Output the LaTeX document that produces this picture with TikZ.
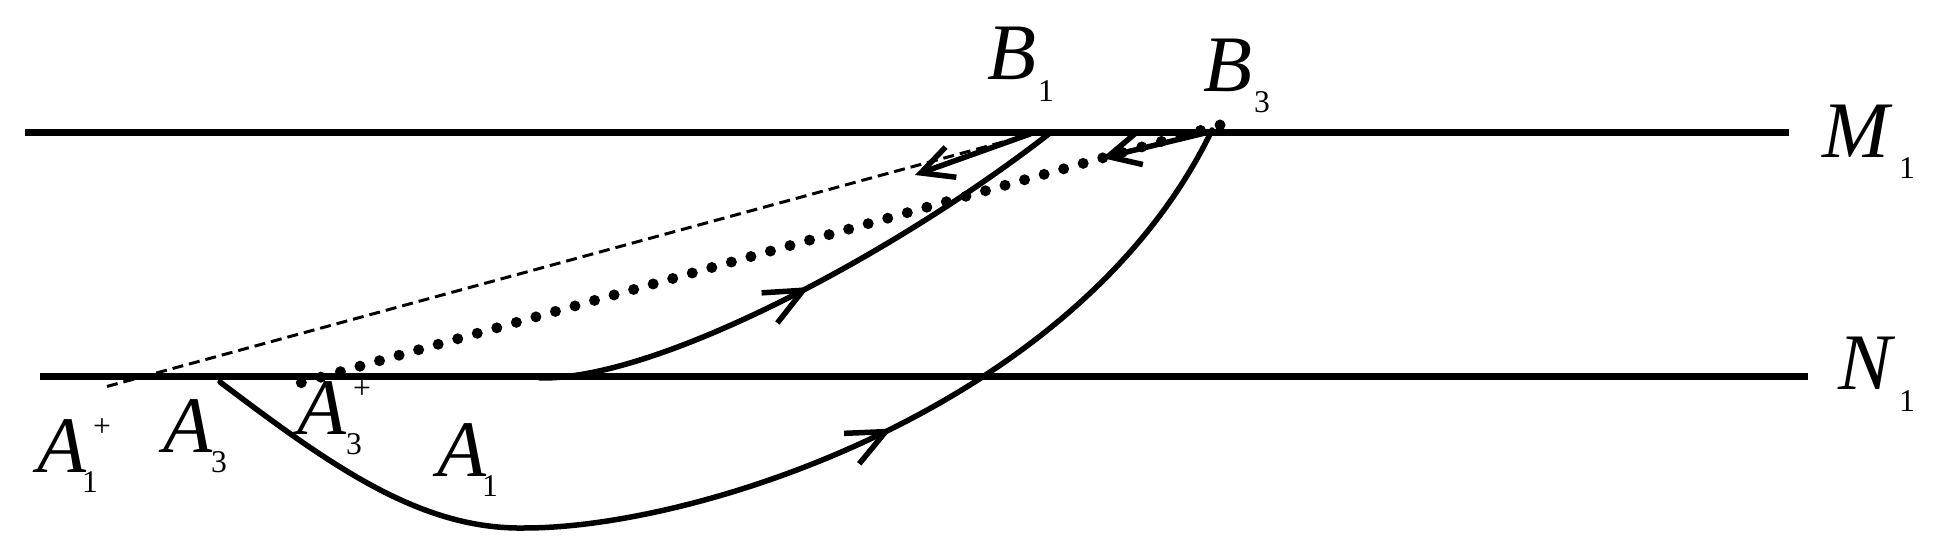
\documentclass[tikz,border=0pt]{standalone}
\usepackage{fontspec}
\setmainfont{Liberation Serif}
\usetikzlibrary{arrows.meta,decorations.markings}
\begin{document}
\begin{tikzpicture}[
  mirror/.style={line width=0.07cm},
  ray/.style={line width=0.055cm, line cap=round},
  barb/.style={ray, -{Straight Barb[length=0.32cm,width=0.32cm]}},
  midarrow/.style={postaction={decorate},decoration={markings,mark=at position #1 with {\arrow{Straight Barb[length=0.38cm,width=0.34cm]}}}},
  thindash/.style={line width=0.03cm, dash pattern=on 0.11cm off 0.06cm},
  bigdots/.style={line width=0.11cm, line cap=round, dash pattern=on 0pt off 0.203cm},
  letter/.style={inner sep=0pt, anchor=base west, font=\fontsize{22.8}{24}\selectfont\itshape},
  sub/.style={inner sep=0pt, anchor=base, font=\fontsize{9}{10}\selectfont},
]
\useasboundingbox (0,0) rectangle (19.35,5.55);
% mirrors
\coordinate (Ml) at (0.25,4.22);
\coordinate (Mr) at (17.89,4.22);
\coordinate (Nl) at (0.40,1.78);
\coordinate (Nr) at (18.08,1.78);
\draw[mirror] (Ml) -- (Mr);
\draw[mirror] (Nl) -- (Nr);
% points
\coordinate (A3) at (2.20,1.73);
\coordinate (bot) at (5.25,0.27);
\coordinate (B3) at (12.12,4.25);
\coordinate (A1) at (5.40,1.77);
\coordinate (B1) at (10.50,4.22);
\coordinate (A1p) at (1.05,1.68);
\coordinate (B1d) at (10.36,4.22);
\coordinate (B1a) at (10.30,4.21);
\coordinate (B1t) at (9.15,3.80);
\coordinate (A3p) at (2.93,1.70);
\coordinate (B3d) at (12.20,4.30);
\coordinate (B3a) at (12.05,4.22);
\coordinate (B3t) at (11.02,3.97);
% lower ray A3 -> B3
\draw[ray, midarrow=0.62] (A3) .. controls (3.30,0.90) and (4.20,0.25) .. (bot)
  .. controls (7.00,0.27) and (10.80,1.50) .. (B3);
% upper ray A1 -> B1
\draw[ray, midarrow=0.5] (A1) .. controls (6.60,1.75) and (9.00,3.05) .. (B1);
% dashed B1 -> A1+
\draw[thindash] (B1d) -- (A1p);
\draw[barb] (B1a) -- (B1t);
% dotted B3 -> A3+
\draw[bigdots] (B3d) -- (A3p);
\draw[barb] (B3a) -- (B3t);
% labels
\node[letter] (lB1) at (9.87,4.75) {B};
\node[sub] (lB1s) at (10.46,4.53) {1};
\node[letter] (lB3) at (12.03,4.63) {B};
\node[sub] (lB3s) at (12.62,4.42) {3};
\node[letter] (lM1) at (18.22,3.97) {M};
\node[sub] (lM1s) at (19.07,3.76) {1};
\node[letter] (lN1) at (18.38,1.65) {N};
\node[sub] (lN1s) at (19.07,1.43) {1};
\node[letter] (lA1p) at (0.37,0.82) {A};
\node[sub] (lA1ps) at (0.90,0.62) {1};
\node[sub, anchor=center] (lA1pp) at (1.02,1.27) {+};
\node[letter] (lA3) at (1.63,1.02) {A};
\node[sub] (lA3s) at (2.19,0.82) {3};
\node[letter] (lA3p) at (2.97,1.20) {A};
\node[sub] (lA3ps) at (3.54,1.00) {3};
\node[sub, anchor=center] (lA3pp) at (3.62,1.65) {+};
\node[letter] (lA1) at (4.37,0.78) {A};
\node[sub] (lA1s) at (4.90,0.58) {1};
\end{tikzpicture}
\end{document}
